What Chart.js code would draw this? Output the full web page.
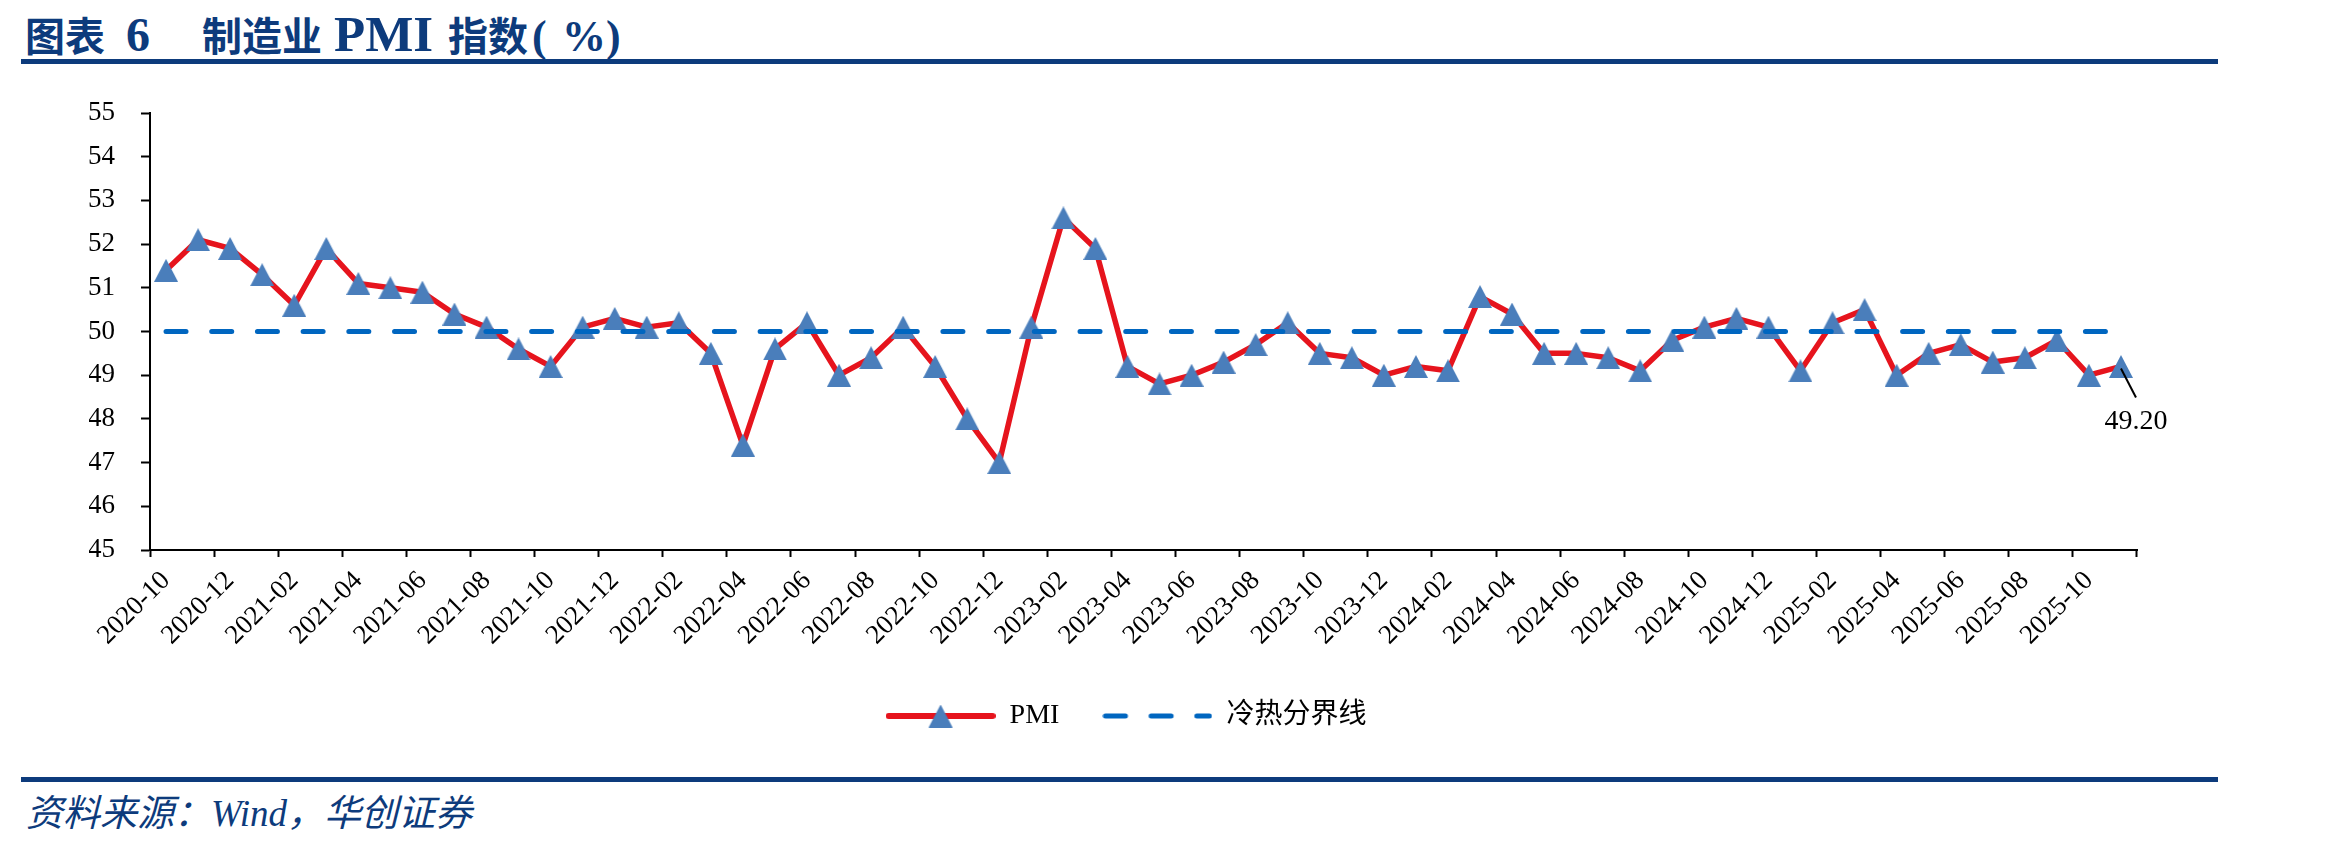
<!DOCTYPE html>
<html>
<head>
<meta charset="utf-8">
<script src="https://cdn.jsdelivr.net/npm/chart.js@4.4.0/dist/chart.umd.min.js"></script>
<style>
  html, body { margin: 0; padding: 0; background: #fff; }
  body { width: 2327px; height: 848px; position: relative; overflow: hidden; }
  .title { position: absolute; left: 25px; top: 5px; color: #0d3b7c; line-height: 1; white-space: nowrap; font-weight: bold; }
  .title span { display: inline-block; vertical-align: baseline; }
  .title .cjk { font: bold 40px "Noto Sans CJK SC", sans-serif; }
  .title .lat { font: bold 48px "Liberation Serif", serif; }
  .rule { position: absolute; left: 21px; width: 2197px; height: 5px; background: #0d3b7c; }
  .source { position: absolute; left: 26px; top: 795px; font: italic 37px "Liberation Serif", "Noto Sans CJK SC", serif; color: #0d3b7c; line-height: 1; white-space: pre; }
  #wrap { position: absolute; left: 0; top: 70px; width: 2327px; height: 700px; }
</style>
</head>
<body>
<div class="title"><span class="cjk" style="width:101px">图表</span><span class="lat" style="width:76px">6</span><span class="cjk" style="width:132px">制造业</span><span class="lat" style="width:114px;font-size:51px">PMI</span><span class="cjk" style="width:84px">指数</span><span class="lat" style="width:30px;font-size:44px">(</span><span class="lat" style="width:44px;font-size:44px">%</span><span class="lat" style="font-size:44px">)</span></div>
<div class="rule" style="top:59px"></div>
<div id="wrap"><canvas id="pmiChart" width="2327" height="700"></canvas></div>
<div class="rule" style="top:777px"></div>
<div class="source">资料来源：Wind，华创证券</div>
<script>
// 月份
const months = [
    '2020-10', '2020-11', '2020-12',
    '2021-01', '2021-02', '2021-03', '2021-04', '2021-05', '2021-06', '2021-07', '2021-08', '2021-09', '2021-10', '2021-11', '2021-12',
    '2022-01', '2022-02', '2022-03', '2022-04', '2022-05', '2022-06', '2022-07', '2022-08', '2022-09', '2022-10', '2022-11', '2022-12',
    '2023-01', '2023-02', '2023-03', '2023-04', '2023-05', '2023-06', '2023-07', '2023-08', '2023-09', '2023-10', '2023-11', '2023-12',
    '2024-01', '2024-02', '2024-03', '2024-04', '2024-05', '2024-06', '2024-07', '2024-08', '2024-09', '2024-10', '2024-11', '2024-12',
    '2025-01', '2025-02', '2025-03', '2025-04', '2025-05', '2025-06', '2025-07', '2025-08', '2025-09', '2025-10', '2025-11'
];

// 制造业PMI
const pmiValues = [
    51.4, 52.1, 51.9,
    51.3, 50.6, 51.9, 51.1, 51.0, 50.9, 50.4, 50.1, 49.6, 49.2, 50.1, 50.3,
    50.1, 50.2, 49.5, 47.4, 49.6, 50.2, 49.0, 49.4, 50.1, 49.2, 48.0, 47.0,
    50.1, 52.6, 51.9, 49.2, 48.8, 49.0, 49.3, 49.7, 50.2, 49.5, 49.4, 49.0,
    49.2, 49.1, 50.8, 50.4, 49.5, 49.5, 49.4, 49.1, 49.8, 50.1, 50.3, 50.1,
    49.1, 50.2, 50.5, 49.0, 49.5, 49.7, 49.3, 49.4, 49.8, 49.0, 49.2
];

// 冷热分界线
const boundaryValues = [
    50, 50, 50,
    50, 50, 50, 50, 50, 50, 50, 50, 50, 50, 50, 50,
    50, 50, 50, 50, 50, 50, 50, 50, 50, 50, 50, 50,
    50, 50, 50, 50, 50, 50, 50, 50, 50, 50, 50, 50,
    50, 50, 50, 50, 50, 50, 50, 50, 50, 50, 50, 50,
    50, 50, 50, 50, 50, 50, 50, 50, 50, 50, 50
];

const yMin = 45;
const yMax = 55;
const yStep = 1;

const RED = '#e6141d';
const MARKER = '#4a7ebb';
const DASH_BLUE = '#0066c0';
const DASH = [20, 25.7];

// 三角形标记
function makeTriangle(w, h, color) {
    const c = document.createElement('canvas');
    c.width = w;
    c.height = h;
    const g = c.getContext('2d');
    g.fillStyle = color;
    g.beginPath();
    g.moveTo(w / 2, 0);
    g.lineTo(w, h);
    g.lineTo(0, h);
    g.closePath();
    g.fill();
    return c;
}

// 图例符号
function makeLegendSymbol(w, h, color, lineWidth, dash, marker) {
    const c = document.createElement('canvas');
    c.width = w;
    c.height = h;
    const g = c.getContext('2d');
    g.strokeStyle = color;
    g.lineWidth = lineWidth;
    g.lineCap = 'round';
    g.setLineDash(dash);
    g.beginPath();
    g.moveTo(3, h / 2);
    g.lineTo(w - 3, h / 2);
    g.stroke();
    if (marker) {
        g.drawImage(marker, (w - marker.width) / 2, (h - marker.height) / 2);
    }
    return c;
}

const triangle = makeTriangle(24, 23, MARKER);
const pmiSymbol = makeLegendSymbol(110, 26, RED, 6, [], triangle);
const boundarySymbol = makeLegendSymbol(110, 26, DASH_BLUE, 5, DASH, null);

// 最新值标注
const lastValueLabel = {
    id: 'lastValueLabel',
    afterDatasetsDraw(chart) {
        const meta = chart.getDatasetMeta(0);
        const pt = meta.data[meta.data.length - 1];
        const ctx = chart.ctx;
        ctx.save();
        ctx.strokeStyle = '#000';
        ctx.lineWidth = 2;
        ctx.beginPath();
        ctx.moveTo(pt.x, pt.y + 2);
        ctx.lineTo(pt.x + 15, pt.y + 31);
        ctx.stroke();
        ctx.fillStyle = '#000';
        ctx.font = '28px "Liberation Serif"';
        ctx.textAlign = 'center';
        ctx.textBaseline = 'middle';
        ctx.fillText(pmiValues[pmiValues.length - 1].toFixed(2), pt.x + 15, pt.y + 55);
        ctx.restore();
    }
};

// 图例整体右移一点
const legendNudge = {
    id: 'legendNudge',
    afterLayout(chart) {
        if (chart.legend) {
            chart.legend.left += 13;
            chart.legend.right += 13;
        }
    }
};

const ctx = document.getElementById('pmiChart').getContext('2d');
const pmiChart = new Chart(ctx, {
    type: 'line',
    data: {
        labels: months,
        datasets: [{
            label: 'PMI',
            data: pmiValues,
            borderColor: RED,
            borderWidth: 5.5,
            borderJoinStyle: 'round',
            pointStyle: triangle,
            pointRadius: 12,
            pointHoverRadius: 12,
            tension: 0,
            fill: false,
            order: 1
        }, {
            label: '冷热分界线',
            data: boundaryValues,
            borderColor: DASH_BLUE,
            borderWidth: 5,
            borderDash: DASH,
            borderCapStyle: 'round',
            pointRadius: 0,
            pointHoverRadius: 0,
            tension: 0,
            fill: false,
            order: 0
        }]
    },
    options: {
        responsive: false,
        animation: false,
        devicePixelRatio: 1,
        layout: {
            padding: { left: 89, right: 190, top: 43, bottom: 30 }
        },
        plugins: {
            tooltip: { enabled: false },
            legend: {
                position: 'bottom',
                labels: {
                    usePointStyle: true,
                    pointStyleWidth: 110,
                    padding: 43,
                    color: '#000',
                    font: { family: '"Liberation Serif", "Noto Sans CJK SC"', size: 28 },
                    generateLabels: () => [
                        { text: 'PMI', pointStyle: pmiSymbol, datasetIndex: 0, lineWidth: 0, fontColor: '#000' },
                        { text: '冷热分界线', pointStyle: boundarySymbol, datasetIndex: 1, lineWidth: 0, fontColor: '#000' }
                    ]
                }
            }
        },
        scales: {
            x: {
                offset: true,
                afterFit: scale => {
                    scale.height = 109;
                    scale.paddingLeft = 0;
                    scale.paddingRight = 0;
                },
                border: { display: true, color: '#000', width: 2 },
                grid: {
                    offset: true,
                    drawOnChartArea: false,
                    drawTicks: true,
                    tickLength: 7,
                    tickWidth: 2,
                    tickColor: c => (c.type === 'scale' || c.index % 2 === 0) ? '#000' : 'rgba(0,0,0,0)'
                },
                ticks: {
                    autoSkip: false,
                    minRotation: 45,
                    maxRotation: 45,
                    padding: 8,
                    color: '#000',
                    font: { family: '"Liberation Serif"', size: 27 },
                    callback: (value, index) => index % 2 === 0 ? months[index] : ''
                }
            },
            y: {
                min: yMin,
                max: yMax,
                afterFit: scale => {
                    scale.width = 61;
                    scale.paddingTop = 0;
                    scale.paddingBottom = 0;
                },
                border: { display: true, color: '#000', width: 2 },
                grid: {
                    drawOnChartArea: false,
                    drawTicks: true,
                    tickLength: 9,
                    tickWidth: 2,
                    tickColor: '#000'
                },
                ticks: {
                    stepSize: yStep,
                    padding: 26,
                    color: '#000',
                    font: { family: '"Liberation Serif"', size: 27 }
                }
            }
        }
    },
    plugins: [lastValueLabel, legendNudge]
});
</script>
</body>
</html>
